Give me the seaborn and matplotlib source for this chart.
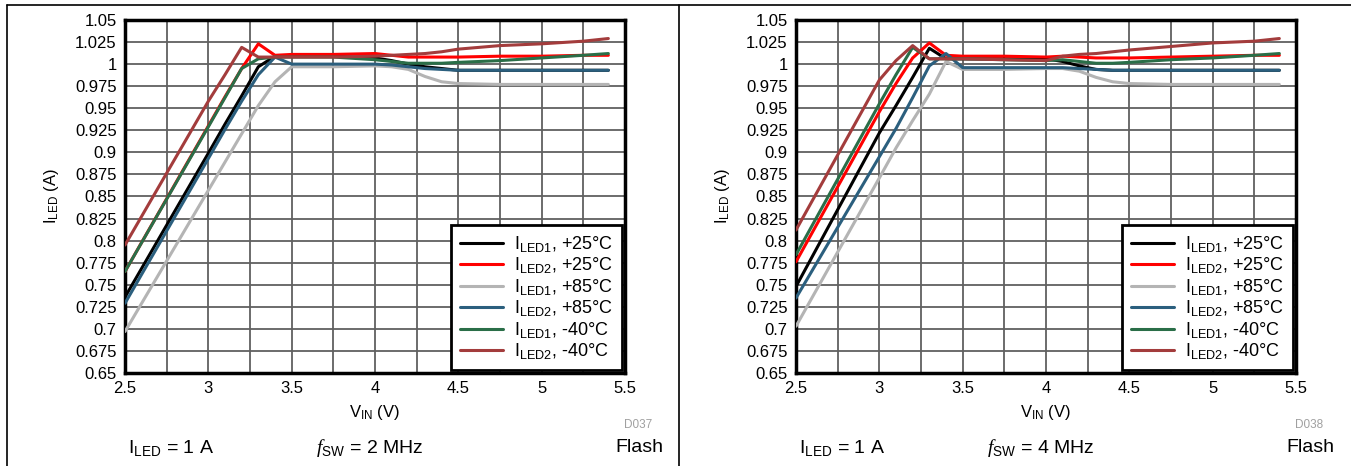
import matplotlib
matplotlib.use('Agg')
import matplotlib.pyplot as plt
from matplotlib.lines import Line2D
from matplotlib.ticker import FormatStrFormatter
import seaborn as sns
import pandas as pd

# Dữ liệu (V_IN, I_LED)
vin = [2.5, 3.0, 3.1, 3.2, 3.3, 3.4, 3.5, 3.75, 4.0, 4.1, 4.2, 4.3, 4.4, 4.5, 4.75, 5.0, 5.25, 5.4]

series_names = [r'I$_{\mathrm{LED1}}$, +25°C', r'I$_{\mathrm{LED2}}$, +25°C',
                r'I$_{\mathrm{LED1}}$, +85°C', r'I$_{\mathrm{LED2}}$, +85°C',
                r'I$_{\mathrm{LED1}}$, -40°C', r'I$_{\mathrm{LED2}}$, -40°C']
series_colors = ['#000000', '#ff0000', '#b4b4b4', '#2b5f7e', '#2a6e48', '#a33c3c']

# fSW = 2 MHz
led1_25_2m = [0.736, 0.899, 0.932, 0.964, 0.997, 1.009, 1.009, 1.009, 1.007, 1.004, 1.000, 0.997, 0.995, 0.993, 0.993, 0.993, 0.993, 0.993]
led2_25_2m = [0.765, 0.930, 0.963, 0.995, 1.023, 1.010, 1.011, 1.011, 1.012, 1.010, 1.008, 1.008, 1.008, 1.008, 1.009, 1.009, 1.010, 1.010]
led1_85_2m = [0.697, 0.857, 0.889, 0.921, 0.953, 0.980, 0.997, 0.997, 0.998, 0.997, 0.994, 0.986, 0.980, 0.978, 0.977, 0.977, 0.977, 0.977]
led2_85_2m = [0.729, 0.893, 0.926, 0.958, 0.988, 1.008, 1.000, 1.000, 1.000, 0.999, 0.997, 0.995, 0.994, 0.993, 0.993, 0.993, 0.993, 0.993]
led1_m40_2m = [0.765, 0.929, 0.962, 0.995, 1.006, 1.008, 1.008, 1.008, 1.005, 1.003, 1.001, 1.001, 1.001, 1.002, 1.004, 1.007, 1.010, 1.012]
led2_m40_2m = [0.795, 0.958, 0.988, 1.019, 1.008, 1.008, 1.008, 1.008, 1.009, 1.010, 1.011, 1.012, 1.014, 1.017, 1.021, 1.023, 1.026, 1.029]

# fSW = 4 MHz
led1_25_4m = [0.748, 0.922, 0.953, 0.985, 1.018, 1.006, 1.006, 1.006, 1.006, 1.003, 0.998, 0.994, 0.993, 0.993, 0.993, 0.993, 0.993, 0.993]
led2_25_4m = [0.776, 0.946, 0.978, 1.007, 1.024, 1.010, 1.009, 1.009, 1.008, 1.009, 1.008, 1.007, 1.007, 1.007, 1.008, 1.009, 1.010, 1.010]
led1_85_4m = [0.703, 0.871, 0.905, 0.936, 0.966, 1.003, 0.994, 0.994, 0.995, 0.995, 0.992, 0.985, 0.980, 0.978, 0.977, 0.977, 0.977, 0.977]
led2_85_4m = [0.735, 0.895, 0.927, 0.962, 0.998, 1.012, 0.996, 0.996, 0.996, 0.996, 0.995, 0.994, 0.993, 0.993, 0.993, 0.993, 0.993, 0.993]
led1_m40_4m = [0.784, 0.955, 0.988, 1.019, 1.006, 1.006, 1.006, 1.005, 1.004, 1.005, 1.003, 1.001, 1.001, 1.002, 1.005, 1.007, 1.010, 1.012]
led2_m40_4m = [0.812, 0.982, 1.004, 1.021, 1.006, 1.006, 1.006, 1.005, 1.004, 1.009, 1.011, 1.012, 1.014, 1.016, 1.020, 1.024, 1.026, 1.029]

panels = [
    ('2 MHz', 'D037', [led1_25_2m, led2_25_2m, led1_85_2m, led2_85_2m, led1_m40_2m, led2_m40_2m]),
    ('4 MHz', 'D038', [led1_25_4m, led2_25_4m, led1_85_4m, led2_85_4m, led1_m40_4m, led2_m40_4m]),
]

sns.set_theme(style='white')
plt.rcParams['font.family'] = ['Liberation Sans', 'DejaVu Sans']
plt.rcParams['text.color'] = 'black'
plt.rcParams['axes.labelcolor'] = 'black'
plt.rcParams['mathtext.fontset'] = 'custom'
plt.rcParams['mathtext.rm'] = 'Liberation Sans'
plt.rcParams['mathtext.it'] = 'Liberation Serif:italic'
plt.rcParams['mathtext.default'] = 'rm'

fig = plt.figure(figsize=(13.51, 4.66), dpi=100)
W, H = 1351, 466
axes_left = [125, 796]

for i, (fsw, tag, data) in enumerate(panels):
    ax = fig.add_axes([axes_left[i] / W, 1 - 373 / H, 500 / W, 353 / H])
    rows = []
    for name, vals in zip(series_names, data):
        for x, y in zip(vin, vals):
            rows.append({'vin': x, 'iled': y, 'series': name})
    df = pd.DataFrame(rows)
    sns.lineplot(data=df, x='vin', y='iled', hue='series', hue_order=series_names,
                 palette=dict(zip(series_names, series_colors)), linewidth=2.2,
                 sort=False, ax=ax, zorder=3)

    ax.set_xlim(2.5, 5.5)
    ax.set_ylim(0.65, 1.05)
    ax.set_xticks([2.5 + 0.25 * k for k in range(13)])
    ax.set_xticklabels([('%g' % (2.5 + 0.25 * k)) if k % 2 == 0 else '' for k in range(13)])
    ax.set_yticks([0.65 + 0.025 * k for k in range(17)])
    ax.yaxis.set_major_formatter(FormatStrFormatter('%g'))
    ax.tick_params(axis='both', labelsize=12, length=0, pad=6, colors='black')
    ax.grid(True, color='#606060', linewidth=1.3)
    for sp in ax.spines.values():
        sp.set_color('black')
        sp.set_linewidth(2.5)
    ax.set_xlabel(r'V$_{\mathrm{IN}}$ (V)', fontsize=12, labelpad=5)
    ax.set_ylabel(r'I$_{\mathrm{LED}}$ (A)', fontsize=12, labelpad=10)

    handles = [Line2D([], [], color=c, linewidth=2.2) for c in series_colors]
    leg = ax.legend(handles, series_names, loc='lower right', fontsize=13,
                    frameon=True, fancybox=False, framealpha=1, edgecolor='black',
                    borderaxespad=0.15, labelspacing=0.08, handlelength=2.4,
                    borderpad=0.5, handletextpad=0.6)
    leg.get_frame().set_linewidth(2)
    leg.set_zorder(5)

    off = 671 * i
    fig.text((128 + off) / W, 1 - 448 / H, r'I$_{\mathrm{LED}}$ = 1 A', fontsize=14, ha='left', va='center')
    fig.text((316 + off) / W, 1 - 448 / H, r'$\mathit{f}_{\mathrm{SW}}$ = ' + fsw, fontsize=14, ha='left', va='center')
    fig.text((663 + off) / W, 1 - 448 / H, 'Flash', fontsize=14, ha='right', va='center')
    fig.text((652 + off) / W, 1 - 425 / H, tag, fontsize=8.5, color='#a0a0a0', ha='right', va='center')

# khung viền
fig.add_artist(Line2D([7 / W, 1], [1 - 5 / H, 1 - 5 / H], color='black', linewidth=1.2))
fig.add_artist(Line2D([7 / W, 7 / W], [0, 1 - 5 / H], color='black', linewidth=1.2))
fig.add_artist(Line2D([679 / W, 679 / W], [0, 1 - 5 / H], color='black', linewidth=1.2))

fig.savefig('out.png', dpi=100)
